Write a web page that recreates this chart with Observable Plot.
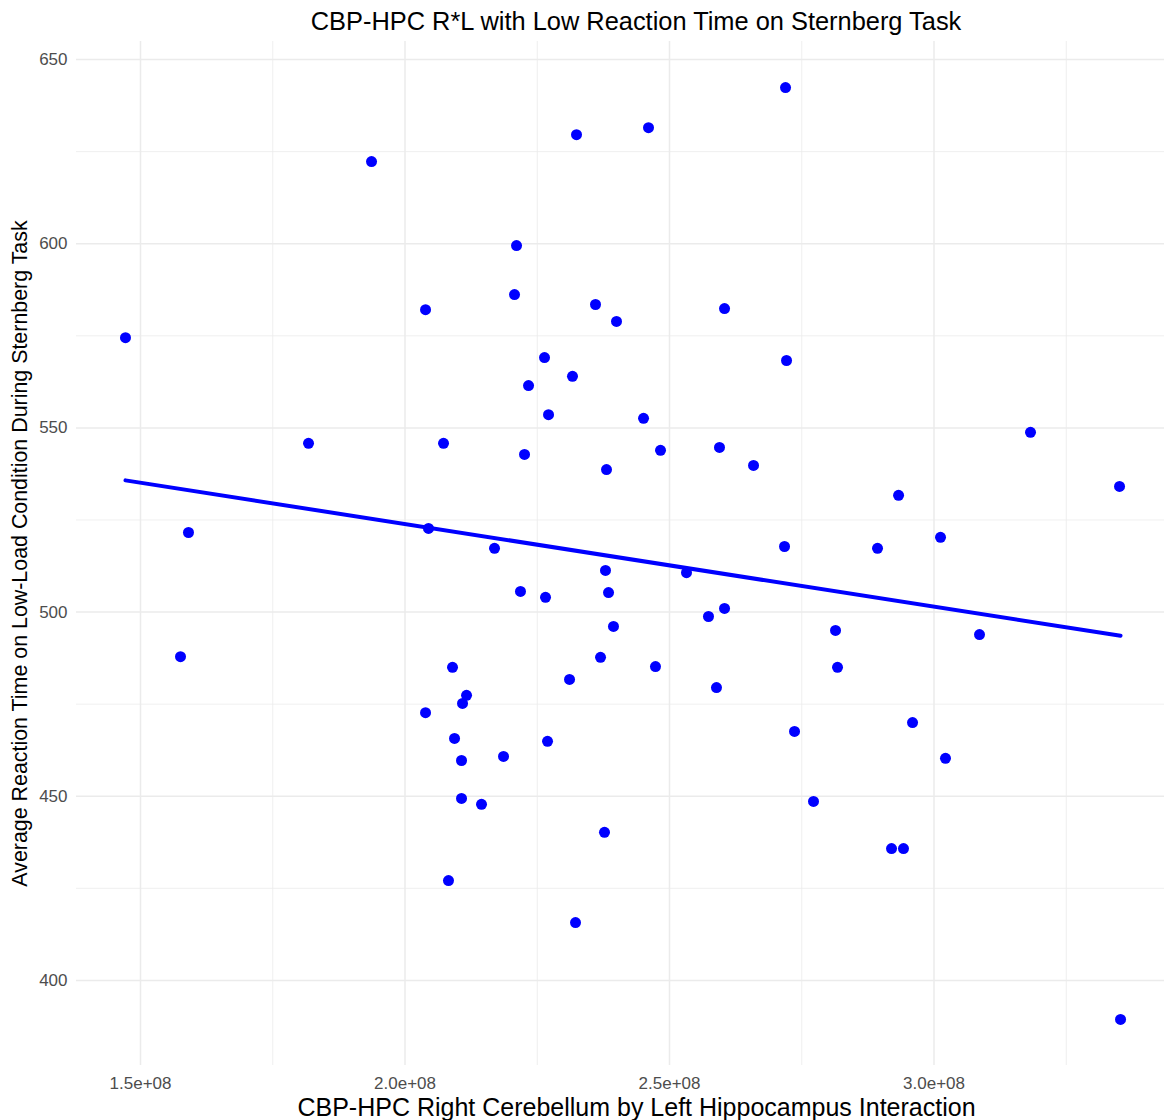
<!DOCTYPE html>
<html>
<head>
<meta charset="utf-8">
<script src="https://cdn.jsdelivr.net/npm/d3@7"></script>
<script src="https://cdn.jsdelivr.net/npm/@observablehq/plot@0.6"></script>
<style>
  html, body { margin: 0; padding: 0; background: #fff; overflow: hidden; }
  #wrap { width: 1164px; height: 1120px; position: relative; font-family: "Liberation Sans", Arial, sans-serif; }
  #title { height: 40px; line-height: 42px; font-size: 25.4px; color: #000; box-sizing: border-box; padding-left: 108px; width: 1164px; text-align: center; white-space: nowrap; }
</style>
</head>
<body>
<div id="wrap">
  <div id="title">CBP-HPC R*L with Low Reaction Time on Sternberg Task</div>
  <div id="chart"></div>
</div>
<script>
// Connectivity (CBP-HPC R*L) values
const xs = [
  1.4716e8, 1.5907e8, 1.5756e8, 1.8176e8, 1.9367e8, 2.0388e8, 2.0444e8, 2.0728e8, 2.0388e8, 2.0898e8,
  2.1163e8, 2.1087e8, 2.0936e8, 2.1068e8, 2.1068e8, 2.1446e8, 2.0822e8, 2.1692e8, 2.1862e8, 2.2108e8,
  2.2070e8, 2.2183e8, 2.2259e8, 2.2335e8, 2.2637e8, 2.2713e8, 2.2656e8, 2.2694e8, 2.3166e8, 2.3110e8,
  2.3223e8, 2.3242e8, 2.3601e8, 2.3809e8, 2.3790e8, 2.3847e8, 2.3696e8, 2.3998e8, 2.3941e8, 2.3771e8,
  2.4603e8, 2.4509e8, 2.4830e8, 2.4735e8, 2.5321e8, 2.5737e8, 2.5888e8, 2.5945e8, 2.6040e8, 2.6040e8,
  2.6588e8, 2.7193e8, 2.7212e8, 2.7174e8, 2.7363e8, 2.7722e8, 2.8138e8, 2.8176e8, 2.8932e8, 2.9330e8,
  2.9197e8, 2.9423e8, 2.9594e8, 3.0123e8, 3.0217e8, 3.0860e8, 3.1824e8, 3.3507e8, 3.3526e8
];
// Average reaction time (ms), low-load condition
const ys = [
  574.5, 521.6, 487.9, 545.8, 622.3, 582.1, 522.7, 545.8, 472.7, 485.0,
  477.4, 475.2, 465.7, 459.7, 449.4, 447.8, 427.1, 517.3, 460.8, 599.5,
  586.2, 505.6, 542.8, 561.5, 569.1, 553.6, 504.0, 464.9, 564.0, 481.7,
  415.7, 629.6, 583.5, 538.7, 511.3, 505.3, 487.7, 578.9, 496.1, 440.2,
  631.5, 552.6, 543.9, 485.2, 510.7, 498.8, 479.5, 544.7, 501.0, 582.4,
  539.8, 642.4, 568.3, 517.8, 467.6, 448.6, 495.0, 485.0, 517.3, 531.7,
  435.8, 435.8, 470.0, 520.3, 460.3, 493.9, 548.8, 534.1, 389.4
];
const xMajor = [1.5e8, 2.0e8, 2.5e8, 3.0e8];
const xMinor = [1.75e8, 2.25e8, 2.75e8, 3.25e8];
const yMajor = [400, 450, 500, 550, 600, 650];
const yMinor = [425, 475, 525, 575, 625];
const xTitle = "CBP-HPC Right Cerebellum by Left Hippocampus Interaction";
const yTitle = "Average Reaction Time on Low-Load Condition During Sternberg Task";

const data = xs.map((x, i) => ({x, y: ys[i]}));
const fmtX = v => (v / 1e8).toFixed(1) + "e+08";

const plot = Plot.plot({
  width: 1164,
  height: 1080,
  marginLeft: 76,
  marginRight: 0,
  marginTop: 1,
  marginBottom: 55,
  style: {fontFamily: "Liberation Sans, Arial, sans-serif", fontSize: "17px", color: "#4d4d4d", background: "#fff"},
  x: {domain: [1.379e8, 3.4357e8]},
  y: {domain: [376.9, 654.9]},
  marks: [
    Plot.ruleX(xMinor, {stroke: "#ebebeb", strokeWidth: 0.8}),
    Plot.ruleY(yMinor, {stroke: "#ebebeb", strokeWidth: 0.8}),
    Plot.ruleX(xMajor, {stroke: "#ebebeb", strokeWidth: 1.5}),
    Plot.ruleY(yMajor, {stroke: "#ebebeb", strokeWidth: 1.5}),
    Plot.axisX({ticks: xMajor, tickFormat: fmtX, tickSize: 0, tickPadding: 11, label: null, fill: "#4d4d4d"}),
    Plot.axisY({ticks: yMajor, tickSize: 0, tickPadding: 9, label: null, fill: "#4d4d4d"}),
    Plot.linearRegressionY(data, {x: "x", y: "y", stroke: "blue", strokeWidth: 4, ci: 0}),
    Plot.dot(data, {x: "x", y: "y", r: 5.5, fill: "blue", stroke: null}),
    Plot.text([xTitle], {text: d => d, frameAnchor: "bottom", textAnchor: "middle", dx: 16, dy: 42, fontSize: 25, fill: "#000", lineAnchor: "middle"}),
    Plot.text([yTitle], {text: d => d, frameAnchor: "left", textAnchor: "middle", dx: -56, rotate: -90, fontSize: 21.4, fill: "#000", lineAnchor: "middle"})
  ]
});
document.getElementById("chart").appendChild(plot);
</script>
</body>
</html>
